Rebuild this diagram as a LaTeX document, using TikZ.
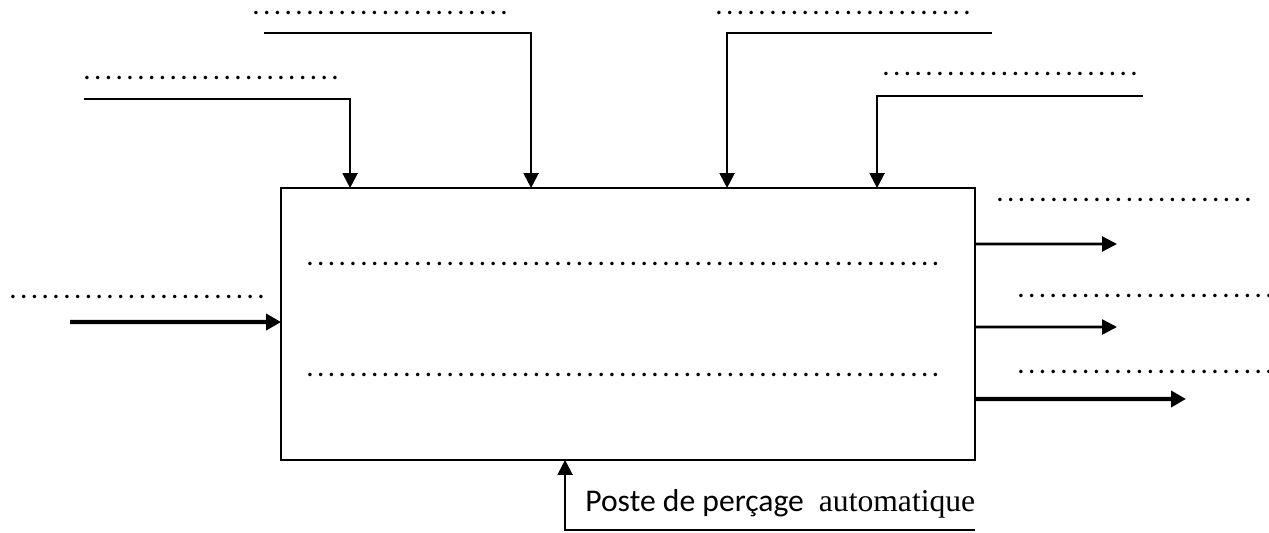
\documentclass[tikz,border=0pt]{standalone}
\usepackage{fontspec}
\setmainfont{Carlito}
\newfontfamily\timesfont{Liberation Serif}
\usetikzlibrary{arrows.meta,calc}
\newcommand{\dotrow}[1]{\foreach \k in {1,...,#1}{\makebox[0.216cm][l]{.}}}

\begin{document}
\begin{tikzpicture}[x=0.02cm, y=-0.02cm,
    every node/.style={font=\fontsize{16.5}{20}\selectfont},
    dots/.style={anchor=base west, inner sep=0pt},
    flow/.style={line width=1.3pt, -{Triangle[length=0.3cm,width=0.3cm]}},
    thickflow/.style={line width=2.4pt, -{Triangle[length=0.3cm,width=0.32cm]}}]
    \useasboundingbox (0,0) rectangle (1269,533);

    % Activity box
    \node[draw, line width=1.6pt, inner sep=0pt, outer sep=0pt, minimum width=13.88cm, minimum height=5.44cm] (act) at (628,324) {};
    \node[dots] (in1) at (306,266) {\dotrow{59}};
    \node[dots] (in2) at (306,377) {\dotrow{59}};

    % Controls from the top
    \coordinate (c1) at (84,99);
    \coordinate (c2) at (264,33);
    \coordinate (c3) at (992,33);
    \coordinate (c4) at (1143,96);
    \node[dots] (d1) at (83,80) {\dotrow{24}};
    \node[dots] (d2) at (252,15) {\dotrow{24}};
    \node[dots] (d3) at (715,15) {\dotrow{24}};
    \node[dots] (d4) at (882,76) {\dotrow{24}};

    % Input on the left
    \coordinate (e1) at (70,322);
    \node[dots] (de) at (9,299) {\dotrow{24}};

    % Outputs on the right
    \coordinate (s1) at (1117,244);
    \coordinate (s2) at (1117,327);
    \coordinate (s3) at (1186,399);
    \node[dots] (ds1) at (996,202) {\dotrow{24}};
    \node[dots] (ds2) at (1017,298) {\dotrow{24}};
    \node[dots] (ds3) at (1017,374) {\dotrow{24}};

    % Mechanism at the bottom
    \coordinate (m1) at (975,530);
    \node[anchor=base west, inner sep=0pt, font=\fontsize{18}{22}\selectfont] (mec) at (585,512) {Poste de perçage\hspace{0.3cm}{\timesfont automatique}};

    % Connections
    \draw[flow] (c1) -| ($(act.north west)+(69,0)$);
    \draw[flow] (c2) -| ($(act.north west)+(250,0)$);
    \draw[flow] (c3) -| ($(act.north west)+(446,0)$);
    \draw[flow] (c4) -| ($(act.north west)+(596,0)$);
    \draw[thickflow] (e1) -- ($(act.north west)+(0,134)$);
    \draw[flow, line width=1.5pt] ($(act.north east)+(0,56)$) -- (s1);
    \draw[flow, line width=1.5pt] ($(act.north east)+(0,139)$) -- (s2);
    \draw[thickflow] ($(act.north east)+(0,211)$) -- (s3);
    \draw[flow] (m1) -| ($(act.south west)+(284,0)$);
\end{tikzpicture}
\end{document}
